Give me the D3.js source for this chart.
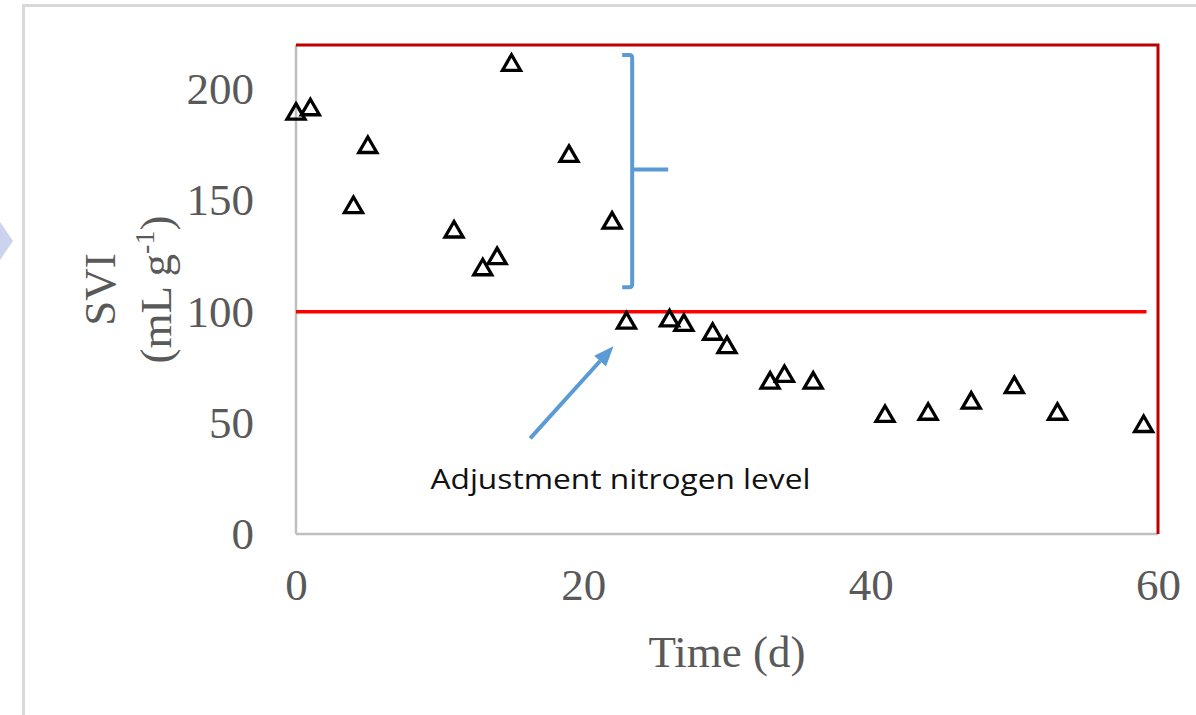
<!DOCTYPE html>
<html>
<head>
<meta charset="utf-8">
<script src="https://cdn.jsdelivr.net/npm/d3@7"></script>
<style>
  body { margin: 0; background: #fff; }
  svg { display: block; }
</style>
</head>
<body>
<svg width="1196" height="715"></svg>
<script>
const days = [0, 1, 4, 5, 11, 13, 14, 15, 19, 22, 23, 26, 27, 29, 30, 33, 34, 36, 41, 44, 47, 50, 53, 59];
const svi = [190, 192, 148, 175, 137, 120, 125, 212, 171, 141, 96, 97, 95, 91, 85, 69, 72, 69, 54, 55, 60, 67, 55, 49.5];
const xTicks = [0, 20, 40, 60];
const yTicks = [0, 50, 100, 150, 200];
const limit = 100;

const svg = d3.select('svg');
const width = +svg.attr('width');
const height = +svg.attr('height');
const margin = { top: 45, right: 38, bottom: 181, left: 296 };
const innerWidth = width - margin.left - margin.right;
const innerHeight = height - margin.top - margin.bottom;

// outer frame and the little pointer on the left edge
svg.append('rect')
  .attr('x', 23.5).attr('y', 5.5)
  .attr('width', width).attr('height', height)
  .attr('fill', 'none').attr('stroke', '#d9d9d9').attr('stroke-width', 3);
svg.append('polygon')
  .attr('points', '0,222 13,241 0,260')
  .attr('fill', '#ccd3ee');

const xScale = d3.scaleLinear().domain([0, 60]).range([0, innerWidth]);
const yScale = d3.scaleLinear().domain([0, 220]).range([innerHeight, 0]);

const g = svg.append('g')
  .attr('transform', `translate(${margin.left}, ${margin.top})`);

const serif = '"Liberation Serif", "Times New Roman", serif';

const yAxis = d3.axisLeft(yScale).tickValues(yTicks).tickSize(0).tickPadding(42);
g.append('g').call(yAxis)
  .call((a) => a.select('.domain').remove())
  .selectAll('text')
  .attr('font-family', serif).attr('font-size', 45).attr('fill', '#595959');

const xAxis = d3.axisBottom(xScale).tickValues(xTicks).tickSize(0).tickPadding(34);
g.append('g').attr('transform', `translate(0, ${innerHeight})`).call(xAxis)
  .call((a) => a.select('.domain').remove())
  .selectAll('text')
  .attr('font-family', serif).attr('font-size', 45).attr('fill', '#595959');

// plot borders
g.append('line')
  .attr('x1', 0).attr('x2', 0).attr('y1', 0).attr('y2', innerHeight)
  .attr('stroke', '#bfbfbf').attr('stroke-width', 2.5);
g.append('line')
  .attr('x1', 0).attr('x2', innerWidth).attr('y1', innerHeight).attr('y2', innerHeight)
  .attr('stroke', '#bfbfbf').attr('stroke-width', 2.5);
g.append('path')
  .attr('d', `M0,0H${xScale(60)}V${innerHeight}`)
  .attr('fill', 'none').attr('stroke', '#c00000').attr('stroke-width', 3);

// limit line
g.append('line')
  .attr('x1', xScale(0)).attr('x2', xScale(59.2))
  .attr('y1', yScale(limit)).attr('y2', yScale(limit))
  .attr('stroke', '#ff0000').attr('stroke-width', 3.5);

// bracket over the high SVI period
const bx = xScale(23.4);
const bTop = yScale(215.5);
const bBot = yScale(111);
const bMid = yScale(164);
g.append('path')
  .attr('d', `M${bx - 10},${bTop}H${bx - 3}Q${bx},${bTop} ${bx},${bTop + 3}V${bBot - 3}Q${bx},${bBot} ${bx - 3},${bBot}H${bx - 10}M${bx},${bMid}H${bx + 36}`)
  .attr('fill', 'none').attr('stroke', '#5b9bd5').attr('stroke-width', 4);

// arrow + note
const tail = [xScale(16.3), yScale(43)];
const tip = [xScale(22.1), yScale(84.5)];
const ang = Math.atan2(tip[1] - tail[1], tip[0] - tail[0]);
const hl = 20, hw = 8;
const base = [tip[0] - hl * Math.cos(ang), tip[1] - hl * Math.sin(ang)];
g.append('line')
  .attr('x1', tail[0]).attr('y1', tail[1]).attr('x2', base[0]).attr('y2', base[1])
  .attr('stroke', '#5b9bd5').attr('stroke-width', 4);
g.append('polygon')
  .attr('points', [
    tip,
    [base[0] + hw * Math.sin(ang), base[1] - hw * Math.cos(ang)],
    [base[0] - hw * Math.sin(ang), base[1] + hw * Math.cos(ang)]
  ].map((p) => p.join(',')).join(' '))
  .attr('fill', '#5b9bd5');

g.append('text')
  .attr('x', xScale(9.36)).attr('y', yScale(20.4))
  .attr('font-family', '"Open Sans", "Noto Sans", sans-serif')
  .attr('font-size', 28)
  .attr('textLength', 380).attr('lengthAdjust', 'spacingAndGlyphs')
  .attr('fill', '#111')
  .text('Adjustment nitrogen level');

// data markers
const tri = 'M0,-8L9,7.5L-9,7.5Z';
g.selectAll('path.pt')
  .data(days.map((d, i) => ({ x: d, y: svi[i] })))
  .enter()
  .append('path')
  .attr('class', 'pt')
  .attr('d', tri)
  .attr('transform', (d) => `translate(${xScale(d.x)}, ${yScale(d.y)})`)
  .attr('fill', 'none').attr('stroke', '#000').attr('stroke-width', 3.3)
  .attr('stroke-linejoin', 'miter');

// axis titles
svg.append('text')
  .attr('x', margin.left + xScale(30)).attr('y', 667)
  .attr('text-anchor', 'middle')
  .attr('font-family', serif).attr('font-size', 45).attr('fill', '#595959')
  .text('Time (d)');

const cy = margin.top + innerHeight / 2;
svg.append('text')
  .attr('transform', `translate(115, ${cy}) rotate(-90)`)
  .attr('text-anchor', 'middle')
  .attr('font-family', serif).attr('font-size', 45).attr('fill', '#595959')
  .text('SVI');
const t2 = svg.append('text')
  .attr('transform', `translate(171, ${cy}) rotate(-90)`)
  .attr('text-anchor', 'middle')
  .attr('font-family', serif).attr('font-size', 45).attr('fill', '#595959');
t2.append('tspan').text('(mL g');
t2.append('tspan').attr('font-size', 28).attr('dy', -17).text('-1');
t2.append('tspan').attr('dy', 17).text(')');
</script>
</body>
</html>
